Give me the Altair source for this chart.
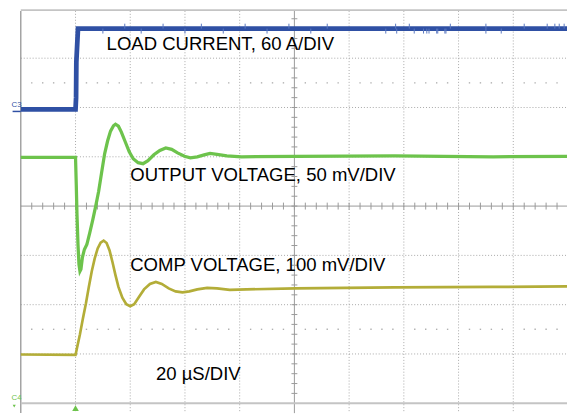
import altair as alt
import pandas as pd

# ---- trace data (x in horizontal divisions, y in vertical divisions) ----
load_x = [0.0, 1.0, 1.01, 1.015, 1.045, 10.0]
load_y = [5.96, 5.96, 6.2, 6.92, 7.6, 7.6]

out_x = [0.0, 1.0, 1.014, 1.027, 1.045, 1.063, 1.081, 1.099, 1.126, 1.162, 1.207,
         1.261, 1.315, 1.369, 1.423, 1.477, 1.532, 1.586, 1.640, 1.694, 1.730,
         1.784, 1.838, 1.910, 1.982, 2.054, 2.144, 2.234, 2.324, 2.432, 2.541,
         2.649, 2.757, 2.865, 2.991, 3.099, 3.225, 3.351, 3.459, 3.586, 3.766,
         4.036, 5.027, 6.829, 8.631, 10.0]
out_y = [4.99, 4.99, 4.42, 3.82, 3.22, 2.82, 2.68, 2.72, 2.96, 3.12, 3.22,
         3.46, 3.72, 4.00, 4.30, 4.68, 5.06, 5.32, 5.52, 5.63, 5.66,
         5.62, 5.50, 5.30, 5.10, 4.96, 4.88, 4.86, 4.92, 5.04, 5.13,
         5.18, 5.15, 5.08, 5.01, 4.98, 5.00, 5.04, 5.07, 5.05, 5.02,
         5.00, 5.01, 5.02, 5.00, 5.01]

comp_x = [0.0, 1.0, 1.027, 1.081, 1.135, 1.189, 1.243, 1.297, 1.351, 1.405,
          1.459, 1.514, 1.568, 1.622, 1.676, 1.730, 1.784, 1.856, 1.928, 2.0,
          2.072, 2.162, 2.252, 2.360, 2.468, 2.577, 2.703, 2.829, 2.955, 3.081,
          3.225, 3.405, 3.586, 3.820, 4.126, 5.027, 6.829, 8.631, 10.0]
comp_y = [0.99, 0.98, 1.12, 1.40, 1.72, 2.02, 2.36, 2.68, 2.94, 3.14,
          3.26, 3.30, 3.25, 3.10, 2.86, 2.60, 2.36, 2.14, 2.01, 1.97,
          2.01, 2.16, 2.31, 2.42, 2.46, 2.42, 2.33, 2.27, 2.25, 2.27,
          2.31, 2.34, 2.33, 2.30, 2.31, 2.33, 2.35, 2.36, 2.37]

# noise spikes on the load-current trace (x positions, divisions)
spike_up_x = [1.9, 2.6, 3.3, 4.1, 4.9, 5.6, 6.85, 7.1, 7.85, 8.5, 9.2, 9.62, 9.76, 9.84, 9.93]
spike_dn_x = [1.5, 2.2, 3.0, 3.7, 4.5, 5.3, 6.67, 6.87, 7.19, 7.36, 7.42, 7.46,
              7.6, 7.62, 7.75, 7.77, 8.5, 8.78]

labels = ["LOAD CURRENT, 60 A/DIV", "OUTPUT VOLTAGE, 50 mV/DIV",
          "COMP VOLTAGE, 100 mV/DIV", "20 \u00b5S/DIV"]
label_x = [1.568, 2.0, 2.0, 2.47]
label_y = [7.17, 4.5, 2.68, 0.48]

# ---- scales ----
XD = [-0.234, 9.982]
YD = [-0.2, 7.96]
xs = alt.Scale(domain=XD, nice=False, zero=False)
ys = alt.Scale(domain=YD, nice=False, zero=False)
BLUE = "#2f50a4"
GREEN = "#6dc34c"
YELLOW = "#b3ad38"
GRID = "#a8a8a8"


def X(f="x"):
    return alt.X(f"{f}:Q", scale=xs, axis=None)


def Y(f="y"):
    return alt.Y(f"{f}:Q", scale=ys, axis=None)


layers = []

# grid
vgrid = pd.DataFrame({"x": [1, 2, 3, 4, 6, 7, 8, 9]})
layers.append(alt.Chart(vgrid).mark_rule(color=GRID, strokeWidth=1, strokeDash=[1, 2]).encode(x=X()))
hgrid = pd.DataFrame({"y": [1, 2, 3, 5, 6, 7], "x": [0] * 6, "x2": [10] * 6})
layers.append(alt.Chart(hgrid).mark_rule(color=GRID, strokeWidth=1, strokeDash=[1, 2]).encode(
    x=X(), x2="x2:Q", y=Y()))

# sparse dot rows
dots_x = [i * 0.2 for i in range(1, 50) if i % 5 != 0]
dots = pd.DataFrame({"x": dots_x * 2, "y": [6.5] * len(dots_x) + [1.5] * len(dots_x)})
layers.append(alt.Chart(dots).mark_square(size=2, color="#b0b0b0", opacity=1).encode(x=X(), y=Y()))

# center cross with ticks
cx = pd.DataFrame({"x": [5.0]})
layers.append(alt.Chart(cx).mark_rule(color="#999999", strokeWidth=1).encode(x=X()))
cy = pd.DataFrame({"y": [4.0], "x": [0], "x2": [10]})
layers.append(alt.Chart(cy).mark_rule(color="#999999", strokeWidth=1).encode(x=X(), x2="x2:Q", y=Y()))
tx = [i * 0.2 for i in range(1, 50)]
ticks_h = pd.DataFrame({"x": tx, "y": [3.93] * len(tx), "y2": [4.07] * len(tx)})
layers.append(alt.Chart(ticks_h).mark_rule(color="#999999", strokeWidth=1).encode(x=X(), y=Y(), y2="y2:Q"))
ty = [i * 0.2 for i in range(1, 40)]
ticks_v = pd.DataFrame({"y": ty, "x": [4.946] * len(ty), "x2": [5.054] * len(ty)})
layers.append(alt.Chart(ticks_v).mark_rule(color="#999999", strokeWidth=1).encode(x=X(), x2="x2:Q", y=Y()))

# frame
layers.append(alt.Chart(pd.DataFrame({"x": [0.0]})).mark_rule(color="#8c8c8c", strokeWidth=1.2).encode(x=X()))
frame_h = pd.DataFrame({"y": [0.0, 7.975], "x": [0, 0], "x2": [10, 10]})
layers.append(alt.Chart(frame_h).mark_rule(color="#c4c4c4", strokeWidth=2).encode(x=X(), x2="x2:Q", y=Y()))

# traces
comp = pd.DataFrame({"x": comp_x, "y": comp_y})
layers.append(alt.Chart(comp).mark_line(color=YELLOW, strokeWidth=2.7, clip=True).encode(x=X(), y=Y(), order="x:Q"))
outv = pd.DataFrame({"x": out_x, "y": out_y})
layers.append(alt.Chart(outv).mark_line(color=GREEN, strokeWidth=3.3, clip=True).encode(x=X(), y=Y(), order="x:Q"))
load = pd.DataFrame({"x": load_x, "y": load_y})
layers.append(alt.Chart(load).mark_line(color=BLUE, strokeWidth=4.8, clip=True).encode(x=X(), y=Y(), order="x:Q"))

spk = pd.DataFrame({"x": spike_up_x + spike_dn_x,
                    "y": [7.6] * len(spike_up_x) + [7.6] * len(spike_dn_x),
                    "y2": [7.7] * len(spike_up_x) + [7.5] * len(spike_dn_x)})
layers.append(alt.Chart(spk).mark_rule(color="#5a78c0", strokeWidth=1).encode(x=X(), y=Y(), y2="y2:Q"))

# text labels
lab = pd.DataFrame({"x": label_x, "y": label_y, "t": labels})
layers.append(alt.Chart(lab).mark_text(align="left", baseline="alphabetic", fontSize=18.8,
                                       font="Liberation Sans", color="#000000").encode(
    x=X(), y=Y(), text="t:N"))

# channel markers
c3 = pd.DataFrame({"x": [-0.17], "y": [6.02], "t": ["C3"]})
layers.append(alt.Chart(c3).mark_text(align="left", baseline="alphabetic", fontSize=8,
                                      font="Liberation Sans", color=BLUE).encode(x=X(), y=Y(), text="t:N"))
c3l = pd.DataFrame({"x": [-0.15], "x2": [0.0], "y": [5.92]})
layers.append(alt.Chart(c3l).mark_rule(color=BLUE, strokeWidth=1.5).encode(x=X(), x2="x2:Q", y=Y()))
c4 = pd.DataFrame({"x": [-0.17], "y": [0.06], "t": ["C4"]})
layers.append(alt.Chart(c4).mark_text(align="left", baseline="alphabetic", fontSize=8,
                                      font="Liberation Sans", color=GREEN).encode(x=X(), y=Y(), text="t:N"))
c4a = pd.DataFrame({"x": [-0.12], "y": [-0.06]})
layers.append(alt.Chart(c4a).mark_point(shape="triangle-down", size=10, filled=True, color=GREEN,
                                        opacity=1).encode(x=X(), y=Y()))
trig = pd.DataFrame({"x": [1.0], "y": [-0.1]})
layers.append(alt.Chart(trig).mark_point(shape="triangle-up", size=45, filled=True, color=GREEN,
                                         opacity=1).encode(x=X(), y=Y()))

chart = alt.layer(*layers).properties(
    width=567, height=408, padding=0,
    autosize=alt.AutoSizeParams(type="none"),
    background="#ffffff",
).configure_view(stroke=None)

chart.save("out.html", embed_options={"renderer": "svg", "actions": False})
